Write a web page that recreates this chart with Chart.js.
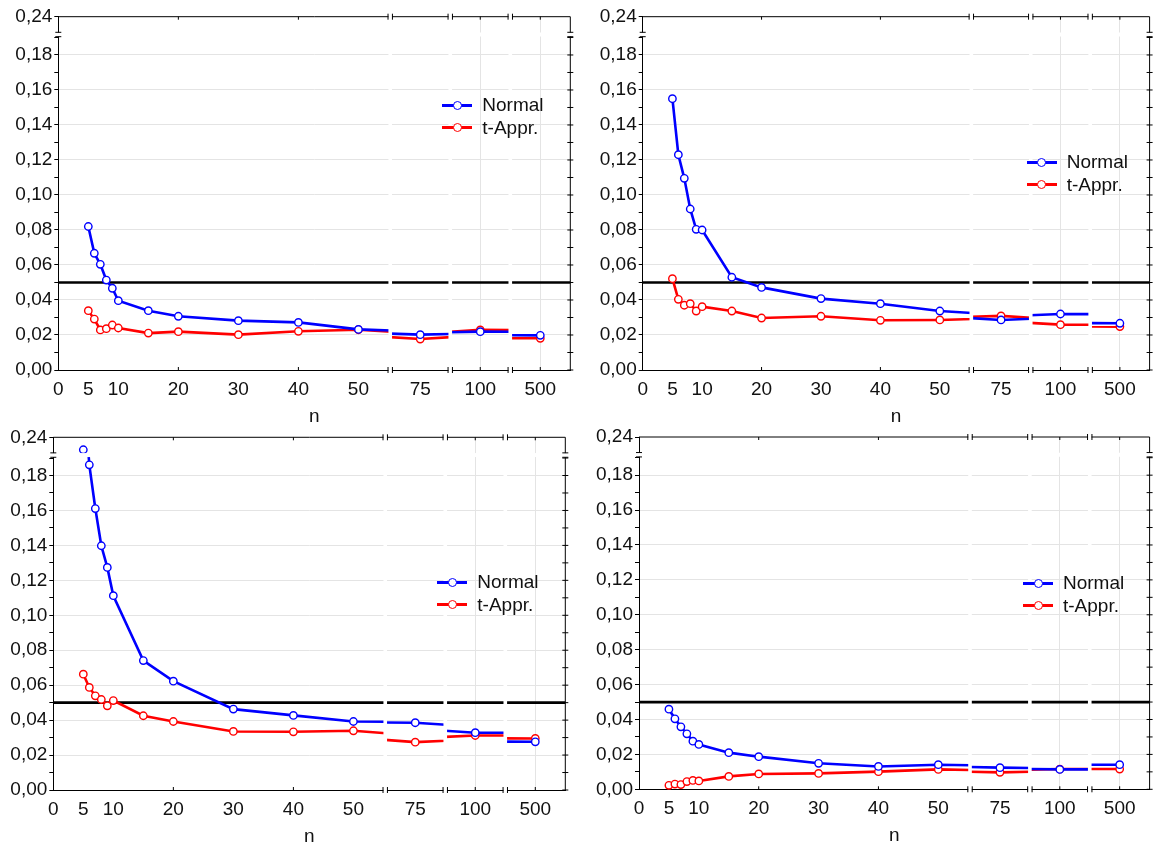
<!DOCTYPE html>
<html>
<head>
<meta charset="utf-8">
<script src="https://cdn.jsdelivr.net/npm/chart.js@4.4.0/dist/chart.umd.min.js"></script>
<style>
  body { margin: 0; background: #fff; width: 1155px; height: 845px; position: relative; overflow: hidden;
         font-family: "Liberation Sans", Arial, sans-serif; }
  .panel { position: absolute; }
  .panel canvas { position: absolute; left: 0; top: 0; }
  .legend { position: absolute; font-size: 19px; color: #111; }
  .row { position: absolute; left: 0; height: 22px; width: 140px; white-space: nowrap; }
  .row .ln { position: absolute; left: 0; top: 9.5px; width: 30px; height: 3px; }
  .row .mk { position: absolute; left: 10.5px; top: 6.5px; width: 9px; height: 9px; box-sizing: border-box;
             border-radius: 50%; background: #fff; border: 1.5px solid; }
  .row span { position: absolute; left: 40px; top: 0; line-height: 22px; }
</style>
</head>
<body>
<script>
// sample sizes on the x axis
const nValues = [5, 6, 7, 8, 9, 10, 15, 20, 30, 40, 50, 75, 100, 500];
const seriesNames = ['Normal', 't-Appr.'];

// top left
const normalA = [0.082, 0.0667, 0.0604, 0.0514, 0.0467, 0.0396, 0.0339, 0.0307, 0.0282, 0.0272, 0.0232, 0.0202, 0.0219, 0.0198];
const tApprA  = [0.0339, 0.0291, 0.0229, 0.0236, 0.0257, 0.024, 0.0211, 0.0219, 0.0202, 0.0221, 0.023, 0.0177, 0.0229, 0.0181];
// top right
const normalB = [0.155, 0.123, 0.1095, 0.092, 0.0804, 0.080, 0.053, 0.0472, 0.0408, 0.0379, 0.0337, 0.0286, 0.032, 0.0267];
const tApprB  = [0.0522, 0.0404, 0.037, 0.0379, 0.0337, 0.0362, 0.0337, 0.0297, 0.0307, 0.0284, 0.0286, 0.0309, 0.0259, 0.0248];
// bottom left
const normalC = [0.233, 0.1861, 0.1611, 0.1398, 0.1274, 0.1112, 0.0741, 0.0623, 0.0463, 0.0427, 0.0392, 0.0385, 0.0328, 0.0276];
const tApprC  = [0.0663, 0.0587, 0.0539, 0.0518, 0.0482, 0.0512, 0.0425, 0.0392, 0.0335, 0.0333, 0.0339, 0.0274, 0.0312, 0.0295];
// bottom right
const normalD = [0.0459, 0.0404, 0.0358, 0.0318, 0.0276, 0.0257, 0.021, 0.0187, 0.0149, 0.0131, 0.0141, 0.0124, 0.0114, 0.0141];
const tApprD  = [0.0023, 0.003, 0.0027, 0.0044, 0.0051, 0.0048, 0.0074, 0.0088, 0.0091, 0.0101, 0.0114, 0.0097, 0.0116, 0.0116];

// tick labels
const yMajorTicks = [0, 0.02, 0.04, 0.06, 0.08, 0.10, 0.12, 0.14, 0.16, 0.18];
const yTopTick = 0.24;
const xMainTicks = [0, 5, 10, 20, 30, 40, 50];
const xBrokenTicks = [75, 100, 500];
const xLabel = 'n';
const refLevel = 0.05;

const FONT = '"Liberation Sans", Arial, sans-serif';
const colors = ['#0000ff', '#ff0000'];

// broken x axis: one linear scale per piece, laid side by side
const xSegs = [
  { id: 'x0', min: 0,   max: 55.3, ticks: xMainTicks,        vgrid: false },
  { id: 'x1', min: 70,  max: 80,   ticks: [xBrokenTicks[0]], vgrid: false },
  { id: 'x2', min: 95,  max: 105,  ticks: [xBrokenTicks[1]], vgrid: true },
  { id: 'x3', min: 495, max: 505,  ticks: [xBrokenTicks[2]], vgrid: true }
];

const panels = [
  { normal: normalA, tAppr: tApprA, box: [0, 0, 578, 422],     plot: [58.3, 16.7, 570.3, 370], leg: 88.5 },
  { normal: normalB, tAppr: tApprB, box: [578, 0, 577, 422],   plot: [642.7, 16.7, 1154.7, 370], leg: 145.6 },
  { normal: normalC, tAppr: tApprC, box: [0, 422, 578, 423],   plot: [53.3, 437.3, 565.3, 790], leg: 145 },
  { normal: normalD, tAppr: tApprD, box: [578, 422, 577, 423], plot: [639, 437, 1151, 789.3], leg: 146.3 }
];

const fmt = v => v.toFixed(2).replace('.', ',');

// all y ticks: labelled ones plus the unlabelled ones halfway between
const yAllTicks = [];
yMajorTicks.forEach((v, i) => {
  yAllTicks.push({ value: v, major: true });
  const nxt = i < yMajorTicks.length - 1 ? yMajorTicks[i + 1] : v + 0.02;
  yAllTicks.push({ value: (v + nxt) / 2, major: false });
});

function line(ctx, x1, y1, x2, y2) {
  ctx.beginPath(); ctx.moveTo(x1, y1); ctx.lineTo(x2, y2); ctx.stroke();
}

function noPad(sc) {
  sc.paddingLeft = 0; sc.paddingRight = 0; sc.paddingTop = 0; sc.paddingBottom = 0;
}

const breakPlugin = {
  id: 'breaks',
  beforeDatasetsDraw(chart) {
    const { ctx, chartArea: a, scales } = chart;
    const y = scales.yLow.getPixelForValue(refLevel);
    ctx.save();
    ctx.strokeStyle = '#000'; ctx.lineWidth = 2.7;
    line(ctx, a.left, y, a.right, y);
    ctx.restore();
  },
  beforeDatasetDraw(chart, args) {
    const { xScale, yScale } = args.meta;
    const ctx = chart.ctx;
    ctx.save();
    ctx.beginPath();
    const extra = yScale.id === 'yLow' ? 6 : 0;
    ctx.rect(xScale.left, yScale.top, xScale.width, yScale.height + extra);
    ctx.clip();
  },
  afterDatasetDraw(chart) {
    chart.ctx.restore();
  },
  afterDatasetsDraw(chart) {
    const { ctx, chartArea: a, scales } = chart;
    ctx.save();
    ctx.strokeStyle = '#000'; ctx.lineWidth = 1;
    // frame top and right
    line(ctx, a.left, a.top, a.right, a.top);
    line(ctx, a.right, a.top, a.right, a.bottom);
    // right side ticks
    yAllTicks.forEach(t => {
      const y = scales.yLow.getPixelForValue(t.value);
      if (y > scales.yLow.top) line(ctx, a.right - 3, y, a.right + 3, y);
    });
    // small inner ticks on top and bottom
    [['x0', 20], ['x0', 40], ['x2', 100], ['x3', 500]].forEach(([id, v]) => {
      const x = scales[id].getPixelForValue(v);
      line(ctx, x, a.bottom, x, a.bottom - 3);
      line(ctx, x, a.top, x, a.top + 3);
    });
    // white gaps at the breaks
    ctx.fillStyle = '#fff';
    const xb = [scales.x0.right, scales.x1.right, scales.x2.right];
    xb.forEach(x => ctx.fillRect(x - 1.8, a.top - 2, 3.6, a.bottom - a.top + 4));
    const yb = scales.yLow.top;
    ctx.fillRect(a.left - 2, yb - 2, a.right - a.left + 4, 4);
    // break marks
    ctx.lineWidth = 1;
    xb.forEach(x => {
      [x - 2.2, x + 2.2].forEach(xx => {
        line(ctx, xx, a.bottom - 3, xx, a.bottom + 3);
        line(ctx, xx, a.top - 3, xx, a.top + 3);
      });
    });
    [yb - 2.2, yb + 2.2].forEach(yy => {
      line(ctx, a.left - 3, yy, a.left + 3, yy);
      line(ctx, a.right - 3, yy, a.right + 3, yy);
    });
    ctx.restore();
  },
  afterDraw(chart) {
    const { ctx, chartArea: a } = chart;
    ctx.save();
    ctx.fillStyle = '#111';
    ctx.font = '19px ' + FONT;
    ctx.textAlign = 'center';
    ctx.textBaseline = 'alphabetic';
    ctx.fillText(xLabel, (a.left + a.right) / 2, a.bottom + 51.5);
    ctx.restore();
  }
};

function makePanel(p) {
  const wrap = document.createElement('div');
  wrap.className = 'panel';
  Object.assign(wrap.style, { left: p.box[0] + 'px', top: p.box[1] + 'px', width: p.box[2] + 'px', height: p.box[3] + 'px' });
  const cv = document.createElement('canvas');
  cv.width = p.box[2]; cv.height = p.box[3];
  wrap.appendChild(cv);
  document.body.appendChild(wrap);

  const yW = p.plot[0] - p.box[0];
  const padT = p.plot[1] - p.box[1];
  const padR = p.box[0] + p.box[2] - p.plot[2];
  const xH = p.box[1] + p.box[3] - p.plot[3];

  const scales = {};
  xSegs.forEach(s => {
    scales[s.id] = {
      type: 'linear', position: 'bottom', stack: 'x', stackWeight: s.max - s.min,
      min: s.min, max: s.max, offset: false,
      afterBuildTicks: sc => { sc.ticks = s.ticks.map(v => ({ value: v })); },
      afterFit: sc => { sc.height = xH; noPad(sc); },
      grid: { drawTicks: false, drawOnChartArea: s.vgrid, color: '#e4e4e4', lineWidth: 1 },
      border: { display: true, color: '#000', width: 1 },
      ticks: { padding: 8, color: '#111', font: { size: 19, family: FONT }, maxRotation: 0, autoSkip: false,
               callback: v => String(v) }
    };
  });
  scales.yLow = {
    type: 'linear', position: 'left', stack: 'y', stackWeight: 335.5, weight: 0,
    min: 0, max: 0.1917,
    afterBuildTicks: sc => { sc.ticks = yAllTicks.map(t => ({ value: t.value, major: t.major })); },
    afterFit: sc => { sc.width = yW; noPad(sc); },
    grid: { color: c => (c.tick && c.tick.major && c.tick.value > 0) ? '#e4e4e4' : 'rgba(0,0,0,0)',
            tickColor: '#000', tickLength: 4, lineWidth: 1 },
    border: { display: true, color: '#000', width: 1 },
    ticks: { padding: 2, color: '#111', font: { size: 19, family: FONT }, autoSkip: false,
             callback: (v, i, ticks) => ticks[i].major ? fmt(v) : '' }
  };
  scales.yHigh = {
    type: 'linear', position: 'left', stack: 'y', stackWeight: 17.8, weight: 1,
    min: 0.23, max: 0.24,
    afterBuildTicks: sc => { sc.ticks = [{ value: yTopTick }]; },
    afterFit: sc => { sc.width = yW; noPad(sc); },
    grid: { color: 'rgba(0,0,0,0)', tickColor: '#000', tickLength: 4 },
    border: { display: true, color: '#000', width: 1 },
    ticks: { padding: 2, color: '#111', font: { size: 19, family: FONT }, callback: v => fmt(v) }
  };

  const datasets = [];
  [p.normal, p.tAppr].forEach((vals, s) => {
    xSegs.forEach(xs => {
      ['yLow', 'yHigh'].forEach(yid => {
        datasets.push({
          label: seriesNames[s],
          data: nValues.map((n, i) => ({ x: n, y: vals[i] })),
          xAxisID: xs.id, yAxisID: yid,
          borderColor: colors[s], backgroundColor: '#fff',
          pointBackgroundColor: '#fff', pointBorderColor: colors[s],
          pointRadius: 3.7, pointBorderWidth: 1.4, borderWidth: 2.6, tension: 0,
          clip: { left: 0, right: 0, top: 0, bottom: yid === 'yLow' ? 6 : 0 }
        });
      });
    });
  });

  new Chart(cv, {
    type: 'line',
    data: { datasets },
    options: {
      responsive: false, animation: false, events: [],
      layout: { padding: { top: padT, right: padR, left: 0, bottom: 0 } },
      scales,
      plugins: { legend: { display: false }, tooltip: { enabled: false } }
    },
    plugins: [breakPlugin]
  });

  // legend inside the plot
  const leg = document.createElement('div');
  leg.className = 'legend';
  leg.style.left = (p.plot[0] + 384) + 'px';
  leg.style.top = (p.plot[1] + p.leg - 11) + 'px';
  seriesNames.forEach((name, s) => {
    const row = document.createElement('div');
    row.className = 'row';
    row.style.top = (s * 22.5) + 'px';
    row.innerHTML = '<div class="ln" style="background:' + colors[s] + '"></div>' +
      '<div class="mk" style="border-color:' + colors[s] + '"></div><span></span>';
    row.querySelector('span').textContent = name;
    leg.appendChild(row);
  });
  document.body.appendChild(leg);
}

panels.forEach(makePanel);
</script>
</body>
</html>
